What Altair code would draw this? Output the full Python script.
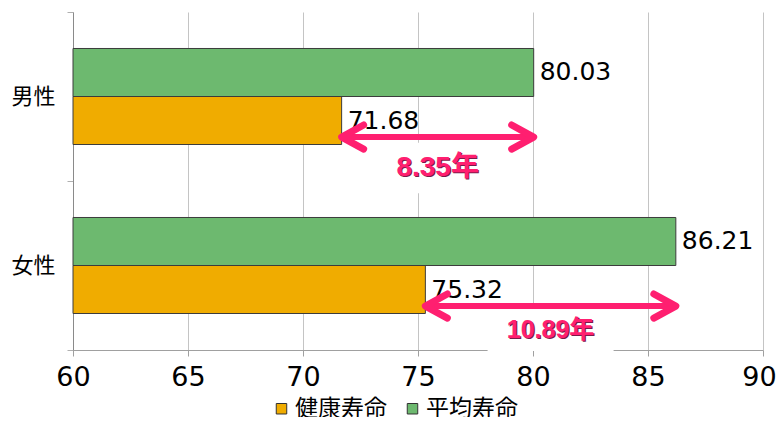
import altair as alt
import pandas as pd

# ---- data ----
sexes = ["男性", "女性"]
healthy = [71.68, 75.32]   # 健康寿命
average = [80.03, 86.21]   # 平均寿命
series_names = ["健康寿命", "平均寿命"]
series_colors = ["#F0AC00", "#6DB96F"]
x_ticks = [60, 65, 70, 75, 80, 85, 90]

bars = pd.DataFrame({
    "sex": sexes * 2,
    "series": [series_names[0]] * 2 + [series_names[1]] * 2,
    "value": healthy + average,
})
gaps = pd.DataFrame({"sex": sexes, "healthy": healthy, "average": average})
gaps["gap"] = (gaps["average"] - gaps["healthy"]).round(2)
gaps["mid"] = (gaps["average"] + gaps["healthy"]) / 2
gaps["label"] = gaps["gap"].map(lambda v: f"{v:.2f}年")

PINK = "#FF1F70"
xscale = alt.Scale(domain=[x_ticks[0], x_ticks[-1]], zero=False, nice=False)
yscale = alt.Scale(domain=sexes, paddingInner=0, paddingOuter=0)

x_axis = alt.Axis(values=x_ticks, title=None, format="d", labelFont="DejaVu Sans",
                  labelFontSize=27, labelColor="black", labelPadding=8, tickSize=6,
                  tickColor="#a0a0a0", domainColor="#a0a0a0", grid=True,
                  gridColor="#c4c4c4", labelFlush=False,
                  labelOffset={"condition": {"test": f"datum.value == {x_ticks[-1]}",
                                             "value": -4}, "value": 0})
y_axis = alt.Axis(title=None, labelFont="Noto Sans CJK JP", labelFontSize=22,
                  labelColor="black", labelPadding=12, tickSize=6, tickColor="#b0b0b0",
                  domainColor="#8a8a8a", tickBand="extent", grid=False, labelAngle=0)

yoff = alt.YOffset("series:N",
                   scale=alt.Scale(domain=[series_names[1], series_names[0]],
                                   paddingInner=0, paddingOuter=0.76))

bar = alt.Chart(bars).mark_bar(stroke="#3c3c3c", strokeWidth=1, opacity=1).encode(
    x=alt.X("value:Q", scale=xscale, axis=x_axis),
    x2=alt.datum(x_ticks[0]),
    y=alt.Y("sex:N", scale=yscale, sort=sexes, axis=y_axis),
    yOffset=yoff,
    color=alt.Color("series:N",
                    scale=alt.Scale(domain=series_names, range=series_colors),
                    legend=alt.Legend(title=None, orient="none", legendX=197, legendY=385,
                                      direction="horizontal", symbolType="square",
                                      symbolSize=110, symbolStrokeColor="#333",
                                      symbolStrokeWidth=1, labelFont="Noto Sans CJK JP",
                                      labelFontSize=23, labelColor="black", labelOffset=2,
                                      columnPadding=14, padding=0, labelLimit=200)),
)

values = alt.Chart(bars).mark_text(align="left", baseline="middle", dx=6,
                                   font="DejaVu Sans", fontSize=25, color="black").encode(
    x=alt.X("value:Q", scale=xscale),
    y=alt.Y("sex:N", scale=yscale, sort=sexes),
    yOffset=yoff,
    text=alt.Text("value:Q", format=".2f"),
)

layers = [bar, values]

# per-row annotation settings: (text band position, font size, box height ratio)
row_style = {sexes[0]: (0.923, 28, 0.40), sexes[1]: (0.882, 25, 0.333)}
for sex in sexes:
    bp, fs, hr = row_style[sex]
    base = alt.Chart(gaps).transform_filter(alt.datum.sex == sex)
    box = base.mark_point(shape=f"M -1 -{hr} H 1 V {hr} H -1 Z", filled=True,
                          fill="white", strokeWidth=0, size=126 ** 2, opacity=1).encode(
        x=alt.X("mid:Q", scale=xscale),
        y=alt.Y("sex:N", scale=yscale, sort=sexes, bandPosition=bp),
    )
    shadow = base.mark_text(align="center", baseline="middle", dx=1.2, dy=1.2,
                            font="Liberation Sans, 'Noto Sans CJK JP'", fontWeight="bold",
                            fontSize=fs, color="#7a1a4a").encode(
        x=alt.X("mid:Q", scale=xscale),
        y=alt.Y("sex:N", scale=yscale, sort=sexes, bandPosition=bp),
        text="label:N",
    )
    txt = base.mark_text(align="center", baseline="middle",
                         font="Liberation Sans, 'Noto Sans CJK JP'", fontWeight="bold",
                         fontSize=fs, color=PINK).encode(
        x=alt.X("mid:Q", scale=xscale),
        y=alt.Y("sex:N", scale=yscale, sort=sexes, bandPosition=bp),
        text="label:N",
    )
    layers += [box, shadow, txt]

ARROW_BP = 0.74
arrow_line = alt.Chart(gaps).mark_rule(color=PINK, strokeWidth=6).encode(
    x=alt.X("healthy:Q", scale=xscale),
    x2="average:Q",
    y=alt.Y("sex:N", scale=yscale, sort=sexes, bandPosition=ARROW_BP),
)
head_left = alt.Chart(gaps).mark_point(shape="M 2 -1.1 L 0 0 L 2 1.1", filled=False,
                                       stroke=PINK, strokeWidth=7, size=484, opacity=1,
                                       strokeCap="round", strokeJoin="round").encode(
    x=alt.X("healthy:Q", scale=xscale),
    y=alt.Y("sex:N", scale=yscale, sort=sexes, bandPosition=ARROW_BP),
)
head_right = alt.Chart(gaps).mark_point(shape="M -2 -1.1 L 0 0 L -2 1.1", filled=False,
                                        stroke=PINK, strokeWidth=7, size=484, opacity=1,
                                        strokeCap="round", strokeJoin="round").encode(
    x=alt.X("average:Q", scale=xscale),
    y=alt.Y("sex:N", scale=yscale, sort=sexes, bandPosition=ARROW_BP),
)
layers += [arrow_line, head_left, head_right]

chart = alt.layer(*layers).properties(
    width=690, height=338,
    autosize=alt.AutoSizeParams(type="none"),
    padding={"left": 65, "top": 4, "right": 13, "bottom": 67},
).configure_view(stroke=None)

chart.save("out.html", embed_options={"renderer": "svg", "actions": False})
